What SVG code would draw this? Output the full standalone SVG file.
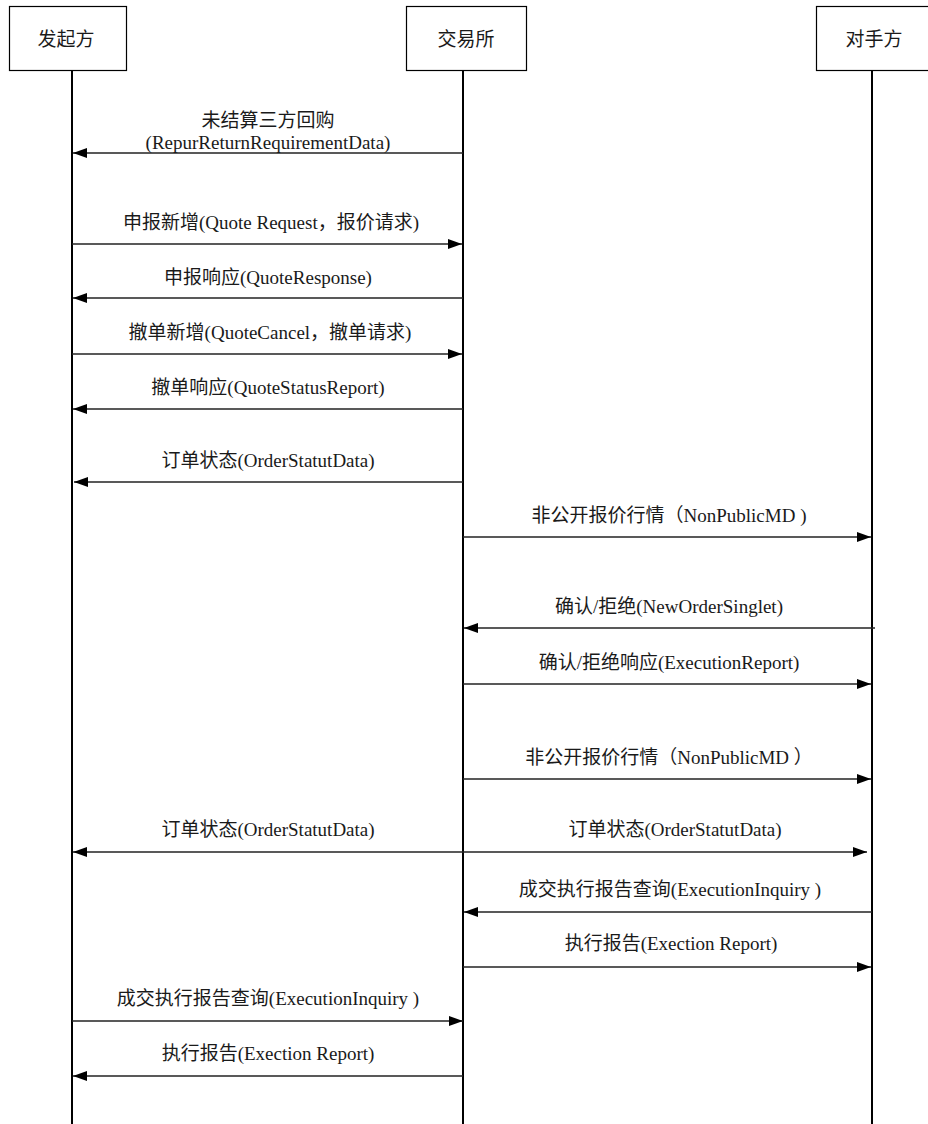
<svg xmlns="http://www.w3.org/2000/svg" width="928" height="1124" viewBox="0 0 928 1124">
<style>
text{font-family:"Liberation Serif","Noto Sans CJK SC",serif;font-size:19px;fill:#1a1a1a;text-anchor:middle}
.box{fill:#fff;stroke:#000;stroke-width:1.2}
.life{stroke:#000;stroke-width:2}
.msg{stroke:#222;stroke-width:1.5;fill:none}
</style>
<defs>
<marker id="ah" markerUnits="userSpaceOnUse" markerWidth="15" markerHeight="11" refX="14" refY="5" orient="auto">
<path d="M0,0 L14,5 L0,10 z" fill="#000"/>
</marker>
<marker id="ahs" markerUnits="userSpaceOnUse" markerWidth="15" markerHeight="11" refX="0" refY="5" orient="auto">
<path d="M14,0 L0,5 L14,10 z" fill="#000"/>
</marker>
</defs>
<rect width="928" height="1124" fill="#fff"/>
<g id="initiator">
<rect class="box" x="9.5" y="6.5" width="117" height="64"/>
<line class="life" x1="72" y1="71" x2="72" y2="1124"/>
<text x="66" y="46">发起方</text>
</g>
<g id="exchange">
<rect class="box" x="406.5" y="6.5" width="120" height="64"/>
<line class="life" x1="463" y1="71" x2="463" y2="1124"/>
<text x="466" y="46">交易所</text>
</g>
<g id="counterparty">
<rect class="box" x="816.5" y="6.5" width="120" height="64"/>
<line class="life" x1="872" y1="71" x2="872" y2="1124"/>
<text x="874" y="46">对手方</text>
</g>
<g id="connectors">
<line class="msg" x1="463" y1="153" x2="73" y2="153" marker-end="url(#ah)"/>
<line class="msg" x1="72" y1="244" x2="462" y2="244" marker-end="url(#ah)"/>
<line class="msg" x1="463" y1="298" x2="73" y2="298" marker-end="url(#ah)"/>
<line class="msg" x1="72" y1="354" x2="462" y2="354" marker-end="url(#ah)"/>
<line class="msg" x1="463" y1="409" x2="73" y2="409" marker-end="url(#ah)"/>
<line class="msg" x1="463" y1="482" x2="74" y2="482" marker-end="url(#ah)"/>
<line class="msg" x1="463" y1="537" x2="871" y2="537" marker-end="url(#ah)"/>
<line class="msg" x1="875" y1="628" x2="464" y2="628" marker-end="url(#ah)"/>
<line class="msg" x1="463" y1="684" x2="871" y2="684" marker-end="url(#ah)"/>
<line class="msg" x1="463" y1="779" x2="871" y2="779" marker-end="url(#ah)"/>
<line class="msg" x1="73" y1="852" x2="867" y2="852" marker-start="url(#ahs)" marker-end="url(#ah)"/>
<line class="msg" x1="872" y1="912" x2="464" y2="912" marker-end="url(#ah)"/>
<line class="msg" x1="463" y1="967" x2="871" y2="967" marker-end="url(#ah)"/>
<line class="msg" x1="72" y1="1021" x2="463" y2="1021" marker-end="url(#ah)"/>
<line class="msg" x1="463" y1="1076" x2="73" y2="1076" marker-end="url(#ah)"/>
</g>
<g id="labels">
<text x="268" y="127">未结算三方回购</text>
<text x="268" y="149">(RepurReturnRequirementData)</text>
<text x="271" y="229">申报新增(Quote Request，报价请求)</text>
<text x="268" y="284">申报响应(QuoteResponse)</text>
<text x="270" y="339">撤单新增(QuoteCancel，撤单请求)</text>
<text x="268" y="394">撤单响应(QuoteStatusReport)</text>
<text x="268" y="467">订单状态(OrderStatutData)</text>
<text x="669" y="522">非公开报价行情（NonPublicMD )</text>
<text x="669" y="613">确认/拒绝(NewOrderSinglet)</text>
<text x="669" y="669">确认/拒绝响应(ExecutionReport)</text>
<text x="669" y="764">非公开报价行情（NonPublicMD ）</text>
<text x="268" y="836">订单状态(OrderStatutData)</text>
<text x="675" y="836">订单状态(OrderStatutData)</text>
<text x="670" y="896">成交执行报告查询(ExecutionInquiry )</text>
<text x="671" y="950">执行报告(Exection Report)</text>
<text x="268" y="1005">成交执行报告查询(ExecutionInquiry )</text>
<text x="268" y="1060">执行报告(Exection Report)</text>
</g>
</svg>
